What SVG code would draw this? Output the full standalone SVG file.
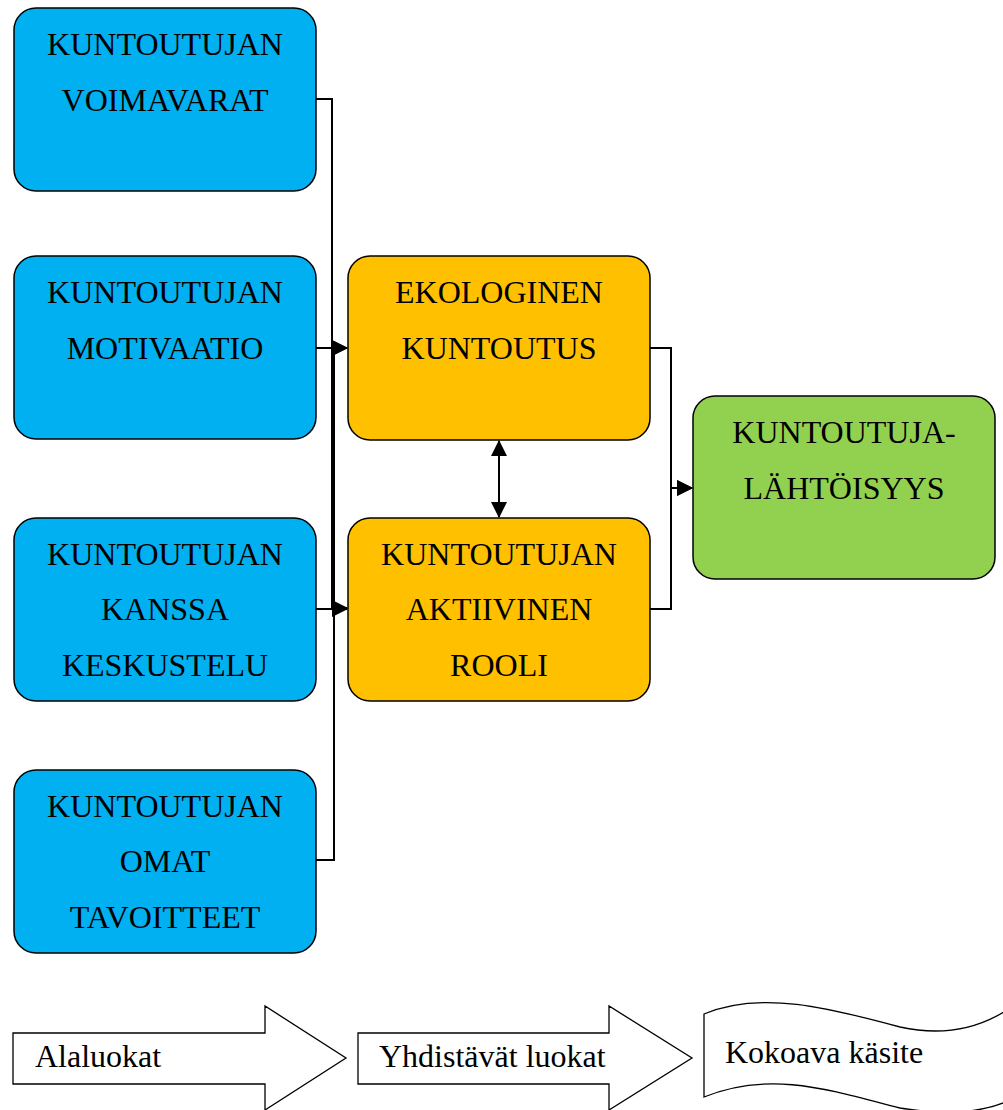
<svg xmlns="http://www.w3.org/2000/svg" width="1003" height="1110" viewBox="0 0 1003 1110" font-family="'Liberation Serif', 'DejaVu Serif', serif">
<style>
.box{stroke:#000;stroke-width:1.5}
.blue{fill:#00B0F0}
.orange{fill:#FFC000}
.green{fill:#92D050}
text{font-family:'Liberation Serif', 'DejaVu Serif', serif;font-size:32px;fill:#000}
.c{text-anchor:middle}
.conn{fill:none;stroke:#000;stroke-width:2}
.shape{fill:#fff;stroke:#000;stroke-width:1.3}
</style>
<defs>
<marker id="ah" markerUnits="userSpaceOnUse" markerWidth="16" markerHeight="16" refX="15" refY="8" orient="auto">
<path d="M0,0 L16,8 L0,16 z" fill="#000"/>
</marker>
<marker id="ahs" markerUnits="userSpaceOnUse" markerWidth="16" markerHeight="16" refX="15" refY="8" orient="auto-start-reverse">
<path d="M0,0 L16,8 L0,16 z" fill="#000"/>
</marker>
</defs>
<rect width="1003" height="1110" fill="#fff"/>
<g id="connectors">
<path class="conn" d="M316,99 H332 V608 H347" marker-end="url(#ah)"/>
<path class="conn" d="M316,860 H334 V348 H347" marker-end="url(#ah)"/>
<path class="conn" d="M316,348 H347" marker-end="url(#ah)"/>
<path class="conn" d="M316,609 H347" marker-end="url(#ah)"/>
<path class="conn" d="M650,348 H671 V488 H692" marker-end="url(#ah)"/>
<path class="conn" d="M650,609 H671 V488 H692" marker-end="url(#ah)"/>
<path class="conn" d="M499,441 V517" marker-start="url(#ahs)" marker-end="url(#ah)"/>
</g>
<g id="b1"><rect class="box blue" x="14" y="8" width="302" height="183" rx="22"/>
<text class="c" x="165" y="55">KUNTOUTUJAN</text><text class="c" x="165" y="111">VOIMAVARAT</text></g>
<g id="b2"><rect class="box blue" x="14" y="256" width="302" height="183" rx="22"/>
<text class="c" x="165" y="303">KUNTOUTUJAN</text><text class="c" x="165" y="359">MOTIVAATIO</text></g>
<g id="b3"><rect class="box blue" x="14" y="518" width="302" height="183" rx="22"/>
<text class="c" x="165" y="565">KUNTOUTUJAN</text><text class="c" x="165" y="620">KANSSA</text><text class="c" x="165" y="676">KESKUSTELU</text></g>
<g id="b4"><rect class="box blue" x="14" y="770" width="302" height="183" rx="22"/>
<text class="c" x="165" y="817">KUNTOUTUJAN</text><text class="c" x="165" y="872">OMAT</text><text class="c" x="165" y="928">TAVOITTEET</text></g>
<g id="o1"><rect class="box orange" x="348" y="256" width="302" height="184" rx="22"/>
<text class="c" x="499" y="303">EKOLOGINEN</text><text class="c" x="499" y="359">KUNTOUTUS</text></g>
<g id="o2"><rect class="box orange" x="348" y="518" width="302" height="183" rx="22"/>
<text class="c" x="499" y="565">KUNTOUTUJAN</text><text class="c" x="499" y="620">AKTIIVINEN</text><text class="c" x="499" y="676">ROOLI</text></g>
<g id="g1"><rect class="box green" x="693" y="396" width="302" height="183" rx="22"/>
<text class="c" x="844" y="443">KUNTOUTUJA-</text><text class="c" x="844" y="499">LÄHTÖISYYS</text></g>
<g id="legend1"><polygon class="shape" points="13,1033 265,1033 265,1006 346,1058 265,1110 265,1084 13,1084"/>
<text x="35" y="1067">Alaluokat</text></g>
<g id="legend2"><polygon class="shape" points="358,1033 609,1033 609,1006 692,1058 609,1110 609,1084 358,1084"/>
<text x="379" y="1067">Yhdistävät luokat</text></g>
<g id="legend3"><path class="shape" d="M704,1014 C760,990 830,1008 900,1027 C950,1038 985,1025 1010,1008 L1010,1100 C985,1112 950,1116 900,1108 C830,1090 770,1070 704,1097 Z"/>
<text x="725" y="1063">Kokoava käsite</text></g>
</svg>
